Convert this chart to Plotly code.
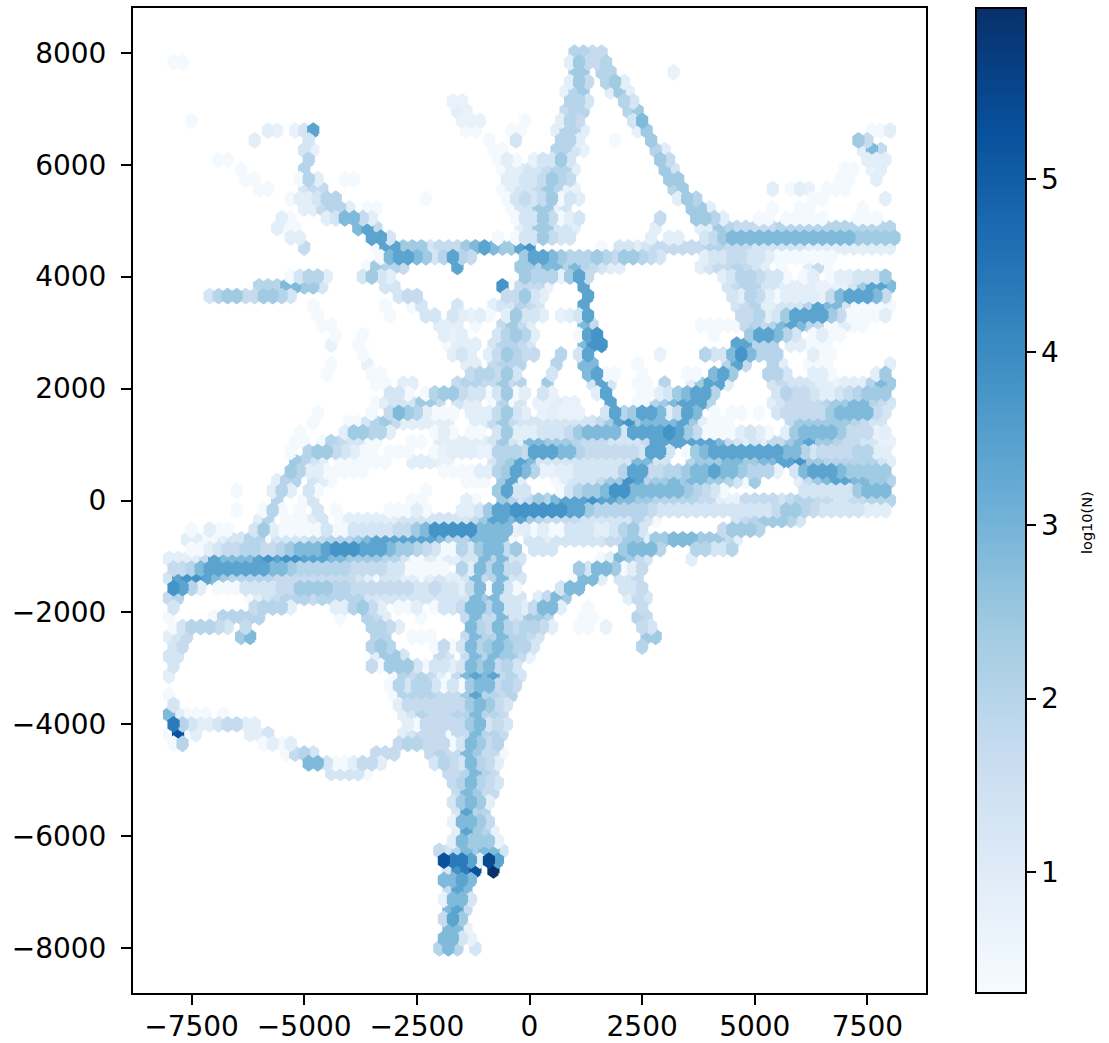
import plotly.graph_objects as go
from plotly.colors import sample_colorscale

# Each cell code is one hexagon's log10(N).
level_codes = "0123456789abcde"
level_log10n = [0.4, 0.7, 0.9, 1.3, 1.7, 2.0, 2.4, 2.85, 3.4, 3.8, 4.35, 4.75, 5.25, 5.45, 5.98]

# row index: "first_column:codes" runs, "." is an empty cell
rows_top = {
92: "5:5544",
91: "-40:00 4:26445",
90: "5:66.55 16:1",
89: "4:264.562",
88: "4:156 9:262",
87: "-9:11 4:553 10:53",
86: "-8:21 4:455 11:56",
85: "-38:0 -8:111 -1:0 3:254 11:37",
84: "-29:21 -26:138 -7:00 -2:00 3:2552 12:16 38:002",
83: "-31:2 -25:3 -5:0 -2:3 3:552 9:0 13:6 36:64",
82: "-25:31 -4:00 3:5531 14:52 37:274",
81: "-35:00 -25:5 -4:020 0:13363 14:64 37:222",
80: "-32:0 -25:5 -3:022334552 15:63 35:00 38:12",
79: "-32:00 -26:052 -21:00 -3:22334654 15:66 34:00 38:2",
78: "-30:00 -25:344 -3:0233 1:46511 16:56 27:2 29:021 33:000",
77: "-27:022355 -12:0 -3:034346032 16:265 31:00 39:2",
76: "-25:224552 -18:00 -2:0336613 18:662 27:0 30:00 37:0",
75: "-28:20 -23:237742 -2:03364023 14:4 18:6652 25:00 28:00000 36:000",
74: "-28:200 -19:784 -1:2366332 14:2 19:226 22:5444445555555555555",
73: "-27:22 -18:883 -4:0.0336433 13:2 15:22 19:346 22:7777777777777766666",
72: "-25:4 -17:088666344467876689 8:0.332344444455 22:4443333332222222222",
71: "-17:07887635854 -1:6 0:887655565466543 19:233443320000000",
70: "-18:06554 -8:8 -1:665775754322 19:23445432.0..240",
69: "-27:03552 -19:3632 -1:65551684 21:2355433 28:0.02. 33:0223336",
68: "-30:55577663 -16:33 -3:904441 6:8 22:3455332222111136887",
67: "-36:3566446653 -15:344 -3:44632 6:8 22:325420222214788874",
66: "-24:0 -16:0 -13:03 -8:3 -4:233543 6:8 23:345223335877300000",
65: "-24:0 -16:0 -12:33 -9:32120 -3:26332 3:1238 23:44523688886400002",
64: "-23:00 -10:222 -6:0 -3:4642 6:74 19:00000 24:45457875400200",
63: "-22:0 -19:0 -10:212 -4:35652 5:089 20:0 24:688753.0200",
}

rows_mid = {
62: "-22:1 -19:0 -9:0222 -4:35543 6:799 23:88555 29:22000",
61: "-19:0 -9:232.246544 3:5 5:38 14:1 19:533797555 31:200",
60: "-22:0 -18:1 -7:22 -4:4555 3:5 6:77 12:0 22:584 27:52 31:000 40:2",
59: "-23:0 -18:00 -7:455463 2:3 6:7800 12:0 17:00 20:786 26:553 31:220 38:26",
58: "-17:00 -14:22 -8:45544645 2:6 7:383 12:00 15:5 18:26882 27:34333221222576",
57: "-16:330.056643303602.31 7:28 12:002367885 27:3544322345666",
56: "-17:02333664.322.0503 1:11211 9:8 12:005678885 27:23444456677543",
55: "-24:0 -18:0.47652000.2224632 1:12111 8:38568872487 20:0.00.0 27:3444446777743",
54: "-24:0 -20:003564222222..2246433 1:33333334 9:68967777862000 29:46666665433",
53: "-26:0 -21:266552 -11:020.00.3622 0:2333467777388889864 19:0000232 26:0.267777644412",
52: "-26:00.0543300 -13:00.2222223632 0:77666544433334 14:8888888 21:7 22:4323244 29:678665443311",
51: "-27:0.56643200.000..01222115554 0:8887754444443 13:88 15:3.0678 21:8888888 28:77 30:53 32:4444 36:55 38:22",
50: "-26:6532.000000..22211....3568 0:7 1:33333333333 12:77 14:33 18:5 19:666 22:77 24:66 26:77 28:889 31:66 33:555555 39:32",
49: "-27:652200000 -10:0000225687 0:5112233333 10:588 13:4455 17:677877 23:6555 27:1.37 31:888 34:7 35:66666",
48: "-28:255.320 -7:000.682 3:02333466 11:9856676 18:77665306 30:24678877665",
47: "-33:0 -29:252.30 -12:0 -4:6833 3:0356679977777765430 30:3333336777",
46: "-28:5 -25:03 -13:00 -7:20..653 0:4657888988 10:776655555442 22:11444434 30:55443344555",
45: "-33:0 -30:050 -26:0 -24:3 -22:0 -16:00020 -8:22368899 0:9999886555555 13:4 14:3333333333333 27:4665 31:4 32:33333 37:222",
44: "-30:25.00023 -21:0222222 -14:33333333 -6:46 -4:88 -2:78 0:654444 6:333333 12:530 23:3456665 30:3",
43: "-38:0 -36:200 -31:362 -28:00000 -23:3 -22:00 -20:33333 -15:44 -13:67 -11:99999 -6:7777 -2:12 0:0200333223563 21:46665",
42: "-38:2200233550 -28:3333 -24:44 -22:555 -19:67 -17:8888888 -10:7 -9:555 -6:7777 -2:0 0:33233333344 11:66 13:2 14:66 16:777 19:666 22:42",
41: "-38:00234455 -30:445 -27:6777 -23:8999 -19:888 -16:766 -13:543 -10:00 -8:5367 -4:746 0:333 10:67775 18:55335",
40: "-40:22224 -35:87777 -30:89899 -25:888 -22:77 -20:6666 -16:55 -14:3 -13:00 -11:2 -10:0 -9:22 -7:33 -5:757 -2:33 8:027643 18:2",
39: "-40:4457 -36:8888888 -29:776 -26:555555 -20:4444 -16:33 -14:00000 -8:52 -6:75744 5:63776024",
38: "-40:38998 -35:76 -33:55555 -28:444444444 -19:320 -16:33 -14:22 -12:0 -11:23 -9:22 -7:37 -5:457 -2:33 5:0772 10:334",
37: "-40:9852.000 -32:3333 -28:44 -26:6666 -22:55 -20:4444444 -13:33 -11:4 -10:33 -8:2470 -4:730 3:377 10:334",
36: "-40:45 -31:02345554 -23:55555 -18:333333333333 -6:767 -3:333 1:2476 11:243",
35: "-40:3 -31:45552 -22:225642.002.03347757332 0:4772 6:0 12:4",
34: "-40:0 -35:055555 -21:0 -18:542 -12:0 -7:4744733 0:665 6:00 12:54",
33: "-40:0355543.4 -18:5542 -7:7547545 0:542 5:00 8:1 12:43",
32: "-40:234 -32:67 -17:55 -13:000 -7:4755755 0:43 13:66",
}

rows_low = {
31: "-40:34 -18:565 -11:04037 -6:567655 0:3 12:5",
30: "-40:33 -17:2663 -10:43.475766 -1:4 0:1",
29: "-40:3 -18:406663033 -9:23767453",
28: "-40:2 -15:0545420 -8:47878453",
27: "-16:05355303 -8:06 -6:77454",
26: "-40:0 -15:05555444 -7:685 -4:545",
25: "-40:3 -15:24444444 -7:67643",
24: "-40:72000.0 -14:23544455 -6:75 -4:54",
23: "-40:a532234422 -14:2044444 -7:67343",
22: "-40:0c02 -31:223 -14:234440 -8:447554",
21: "-40:05 -30:0202 -15:4554440 -8:37645",
20: "-27:0453 -17:444 -11:4544 -7:76440",
19: "-25:7730024 -18:42 -11:3543 -7:7542",
18: "-22:33330 -9:445754",
17: "-9:457543",
16: "-8:47644",
15: "-9:36762",
14: "-8:3855",
13: "-9:17764",
12: "-8:28651",
11: "-9:276661",
10: "-10:43576773",
9: "-10:caa82d8",
8: "-9:39ac.e",
7: "-10:7787",
6: "-9:487",
5: "-10:1773",
4: "-9:784",
3: "-10:486",
2: "-9:771",
1: "-10:7731",
0: "-10:575.3",
}

x_tick_values = [-7500, -5000, -2500, 0, 2500, 5000, 7500]
x_tick_labels = ["\u22127500", "\u22125000", "\u22122500", "0", "2500", "5000", "7500"]
y_tick_values = [-8000, -6000, -4000, -2000, 0, 2000, 4000, 6000, 8000]
y_tick_labels = ["\u22128000", "\u22126000", "\u22124000", "\u22122000", "0", "2000", "4000", "6000", "8000"]
colorbar_ticks = [1, 2, 3, 4, 5]
color_range = [0.301, 5.985]
blues = ["#f7fbff", "#deebf7", "#c6dbef", "#9ecae1", "#6baed6", "#4292c6", "#2171b5", "#08519c", "#08306b"]

GRIDSIZE = 80
EXTENT = 8000.0
SX = 2 * EXTENT / GRIDSIZE
SY = 2 * EXTENT / 46
scale = [[i / 8, c] for i, c in enumerate(blues)]

# even rows are painted first, odd rows over them
poly_x = {(p, c): [] for p in (0, 1) for c in level_codes}
poly_y = {(p, c): [] for p in (0, 1) for c in level_codes}
for source in (rows_top, rows_mid, rows_low):
    for r, text in source.items():
        cy = -EXTENT + r * SY / 2
        for run in text.split():
            start, codes = run.split(":")
            for i, code in enumerate(codes):
                if code == ".":
                    continue
                cx = (int(start) + i) * SX + (SX / 2 if r % 2 else 0)
                dx, dy = SX / 2, SY / 6
                key = (r % 2, code)
                poly_x[key] += [cx + dx, cx + dx, cx, cx - dx, cx - dx, cx, cx + dx, None]
                poly_y[key] += [cy - dy, cy + dy, cy + 2 * dy, cy + dy, cy - dy, cy - 2 * dy, cy - dy, None]

fig = go.Figure()
for parity in (0, 1):
    for code, value in zip(level_codes, level_log10n):
        if not poly_x[(parity, code)]:
            continue
        t = (value - color_range[0]) / (color_range[1] - color_range[0])
        col = sample_colorscale(scale, [t])[0]
        fig.add_trace(go.Scatter(x=poly_x[(parity, code)], y=poly_y[(parity, code)], mode="lines", fill="toself",
                                 fillcolor=col, line=dict(color=col, width=3.2),
                                 hoverinfo="skip", showlegend=False))

fig.add_trace(go.Scatter(
    x=[0, 0], y=[0, 0], mode="markers", showlegend=False, hoverinfo="skip",
    marker=dict(size=0.1, opacity=0, color=color_range, cmin=color_range[0], cmax=color_range[1],
                colorscale=scale, showscale=True,
                colorbar=dict(x=(976 - 133) / 793, xanchor="left", xpad=0, y=0.5, yanchor="middle", ypad=0,
                              len=1, lenmode="fraction", thickness=50, thicknessmode="pixels",
                              outlinecolor="black", outlinewidth=2,
                              tickmode="array", tickvals=colorbar_ticks, ticks="outside",
                              ticklen=9, tickwidth=2, tickcolor="black", tickprefix="\u00a0",
                              tickfont=dict(family="DejaVu Sans", size=28, color="black")))))

axis_common = dict(showgrid=False, zeroline=False, showline=True, mirror=True, linecolor="black", linewidth=2,
                   ticks="outside", ticklen=10, tickwidth=2, tickcolor="black",
                   tickfont=dict(family="DejaVu Sans", size=28, color="black"), tickmode="array")
fig.update_layout(
    width=1109, height=1043, paper_bgcolor="white", plot_bgcolor="white",
    margin=dict(l=133, r=183, t=8, b=50, autoexpand=False),
    xaxis=dict(range=[-8800, 8800], tickvals=x_tick_values, ticktext=x_tick_labels,
               ticklabelstandoff=-3, **axis_common),
    yaxis=dict(range=[-8800, 8800], tickvals=y_tick_values, ticktext=y_tick_labels,
               ticklabelstandoff=9, **axis_common),
    annotations=[dict(text="log10(N)", textangle=-90, xref="paper", yref="paper",
                      x=(1087 - 133) / 793, y=(993 - 523) / 985, showarrow=False,
                      xanchor="center", yanchor="middle",
                      font=dict(family="DejaVu Sans", size=14.5, color="black"))],
)
fig.write_html("out.html", config={"displayModeBar": False},
               post_script="document.body.style.margin='0';document.documentElement.style.overflow='hidden';")
